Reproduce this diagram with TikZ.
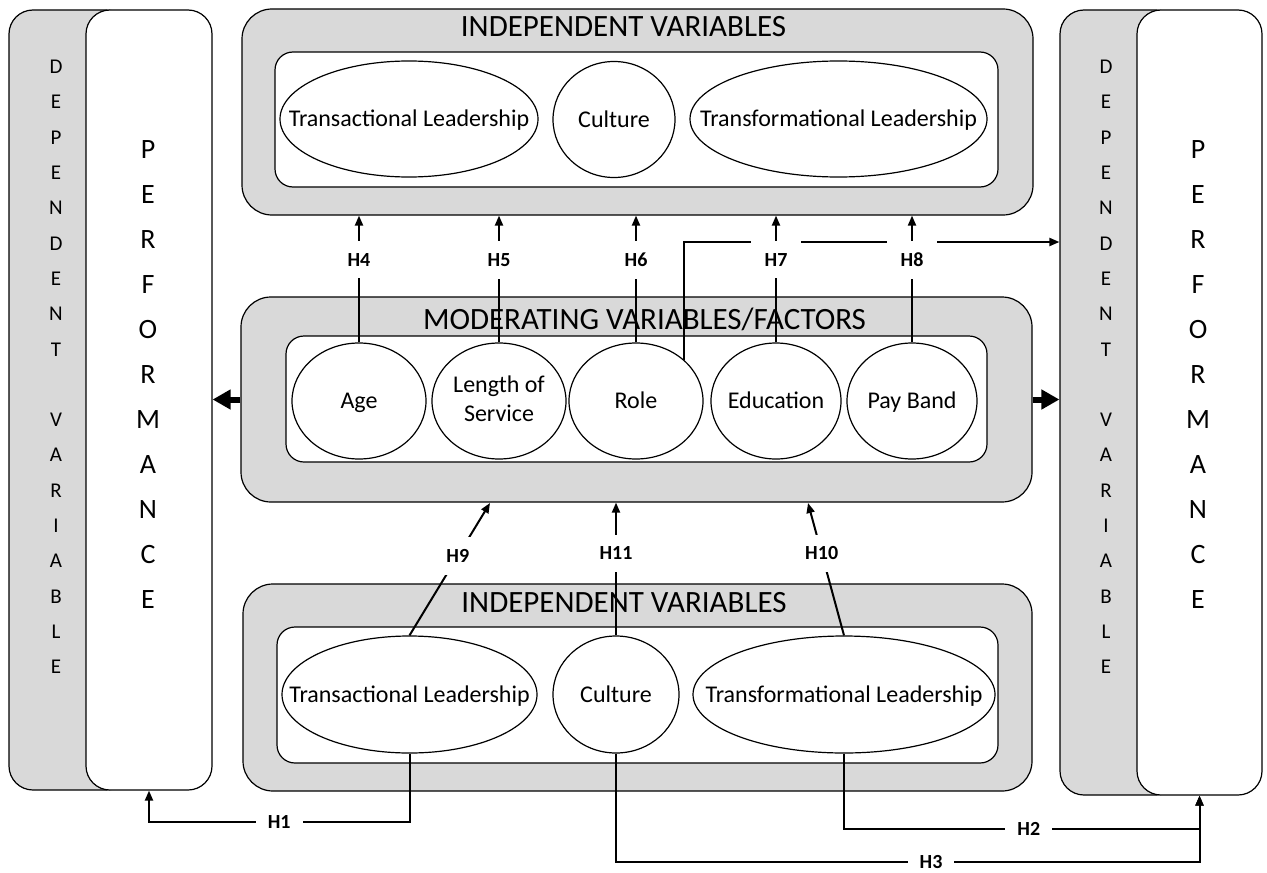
\documentclass[tikz,border=0pt]{standalone}
\usepackage{fontspec}
\setmainfont{Carlito}
\usetikzlibrary{shapes.geometric,arrows.meta,fit,calc}

\newcommand{\inell}[1]{\makebox[0pt]{\raisebox{0pt}[7.8pt][0pt]{#1}}}
\newcommand{\depletters}{D\\E\\P\\E\\N\\D\\E\\N\\T\\[17.65pt]V\\A\\R\\I\\A\\B\\L\\E}
\newcommand{\perfletters}{P\\E\\R\\F\\O\\R\\M\\A\\N\\C\\E}

\begin{document}
\begin{tikzpicture}[x=0.5pt, y=-0.5pt,
  panel/.style={draw, line width=0.6pt, fill=black!15, rounded corners=15pt, inner sep=0pt},
  inpanel/.style={draw, line width=0.6pt, fill=white, rounded corners=9pt, inner sep=0pt},
  depbox/.style={draw, line width=0.6pt, fill=black!15, rounded corners=12pt, inner sep=0pt},
  perfbox/.style={draw, line width=0.6pt, fill=white, rounded corners=12pt, inner sep=0pt},
  var/.style={draw, line width=0.6pt, fill=white, ellipse, inner sep=0pt, minimum height=58pt, font=\fontsize{12}{14.6}\selectfont},
  hyp/.style={line width=1pt, -{Triangle[length=5pt,width=4pt]}},
  hlbl/.style={fill=white, inner sep=6pt, font=\fontsize{10}{12}\selectfont\bfseries},
  fat/.style={line width=3pt, -{Triangle[length=9pt,width=9.5pt]}},
  title/.style={anchor=base, font=\fontsize{15.5}{18}\selectfont},
  letters/.style={align=center, font=\fontsize{10.5}{17.65}\selectfont},
  bigletters/.style={align=center, font=\fontsize{14}{22.5}\selectfont}]
\useasboundingbox (0,0) rectangle (1267,872);

% dependent variable, left and right
\node[depbox, fit={(9,10) (130,790)}] (depL) {};
\node[perfbox, fit={(86,10) (212,790)}] (perfL) {};
\node[letters] (depLtxt) at (56,367) {\depletters};
\node[bigletters] (perfLtxt) at (148,375) {\perfletters};
\node[depbox, fit={(1060,10) (1180,795)}] (depR) {};
\node[perfbox, fit={(1137,10) (1262,795)}] (perfR) {};
\node[letters] (depRtxt) at (1106,367) {\depletters};
\node[bigletters] (perfRtxt) at (1198,375) {\perfletters};

% independent variables (top)
\node[panel, fit={(242,9) (1033,215)}] (topP) {};
\node[title] (topT) at (623.5,37) {INDEPENDENT VARIABLES};
\node[inpanel, fit={(275,52) (998,187)}] (topI) {};
\node[var, minimum width=129pt] (tr) at (409,119) {\inell{Transactional Leadership}};
\node[var, minimum width=61pt] (cu) at (614,119.5) {\inell{Culture}};
\node[var, minimum width=148.5pt] (tf) at (838.5,119) {\inell{Transformational Leadership}};

% moderating variables
\node[panel, fit={(241,297) (1032,502)}] (modP) {};
\node[title] (modT) at (644.5,329) {MODERATING VARIABLES/FACTORS};
\node[inpanel, fit={(286,336) (987,462)}] (modI) {};
\node[var, minimum width=67pt] (age) at (359,401) {\inell{Age}};
\node[var, minimum width=67pt] (los) at (499,401) {\makebox[0pt]{\begin{tabular}{@{}c@{}}Length of\\Service\end{tabular}}};
\node[var, minimum width=67pt] (role) at (636,401) {\inell{Role}};
\node[var, minimum width=65pt] (edu) at (776,401) {\inell{Education}};
\node[var, minimum width=65pt] (pay) at (912,401) {\inell{Pay Band}};

% independent variables (bottom)
\node[panel, fit={(243,584) (1032,791)}] (botP) {};
\node[title] (botT) at (624,612) {INDEPENDENT VARIABLES};
\node[inpanel, fit={(277,627) (998,763)}] (botI) {};
\node[var, minimum width=127.5pt, minimum height=58.5pt] (tr2) at (409.5,694.5) {\inell{Transactional Leadership}};
\node[var, minimum width=63pt, minimum height=58.5pt] (cu2) at (616,694.5) {\inell{Culture}};
\node[var, minimum width=151pt, minimum height=58.5pt] (tf2) at (844,694.5) {\inell{Transformational Leadership}};

% role -> performance, with hops
\coordinate (rowline) at (0,242);
\draw[line width=1pt] (role.north east) |- ($(edu.north |- rowline)+(-25,0)$);
\draw[line width=1pt] ($(edu.north |- rowline)+(25,0)$) -- ($(pay.north |- rowline)+(-25,0)$);
\draw[hyp] ($(pay.north |- rowline)+(25,0)$) -- (depR.west |- rowline);

\draw[hyp] (age.north) -- node[hlbl, pos=0.65] {H4} (age.north |- topP.south);
\draw[hyp] (los.north) -- node[hlbl, pos=0.65] {H5} (los.north |- topP.south);
\draw[hyp] (role.north) -- node[hlbl, pos=0.65] {H6} (role.north |- topP.south);
\draw[hyp] (edu.north) -- node[hlbl, pos=0.65] {H7} (edu.north |- topP.south);
\draw[hyp] (pay.north) -- node[hlbl, pos=0.65] {H8} (pay.north |- topP.south);

\draw[fat] (modP.west) -- (modP.west -| perfL.east);
\draw[fat] (modP.east) -- (modP.east -| depR.west);

\coordinate (h9tip) at (490,503);
\coordinate (h10tip) at (808,503);
\draw[hyp] (tr2.north) -- node[hlbl, pos=0.6] {H9} (h9tip);
\draw[hyp] (tf2.north) -- node[hlbl, pos=0.62] {H10} (h10tip);
\draw[hyp] (cu2.north) -- node[hlbl, pos=0.62] {H11} (cu2.north |- modP.south);

\draw[hyp] (tr2.south) -- ++(0,68) -| node[hlbl, pos=0.25] {H1} (perfL.south);
\draw[hyp] (tf2.south) -- ++(0,75) -| node[hlbl, pos=0.26] {H2} (perfR.south);
\draw[hyp] (cu2.south) -- ++(0,108) -| node[hlbl, inner ysep=1pt, pos=0.27] {H3} (perfR.south);

\end{tikzpicture}
\end{document}
